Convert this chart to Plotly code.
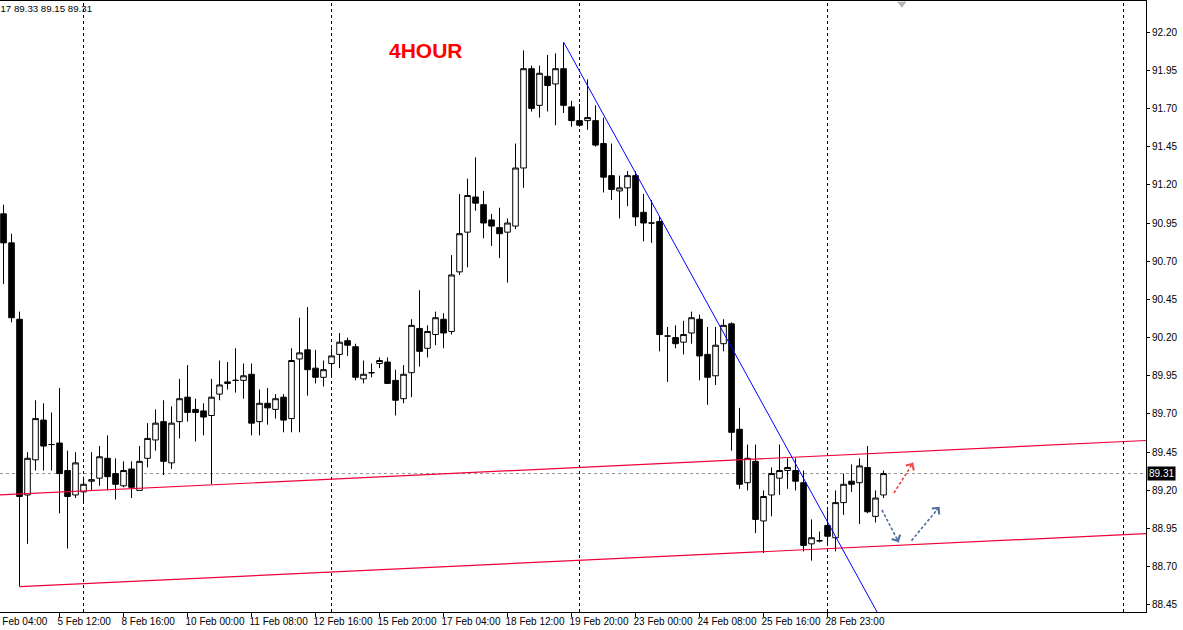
import plotly.graph_objects as go

# ---------------- data (4-hour candles) ----------------
opens = [91.01, 90.82, 90.32, 89.17, 89.40, 89.66, 89.50, 89.51, 89.33, 89.17,
         89.19, 89.26, 89.28, 89.41, 89.31, 89.23, 89.34, 89.20, 89.41, 89.53,
         89.65, 89.38, 89.65, 89.81, 89.73, 89.72, 89.69, 89.83, 89.91, 89.92,
         89.92, 89.96, 89.65, 89.77, 89.73, 89.81, 89.67, 90.06, 90.12, 90.00,
         89.94, 90.03, 90.09, 90.18, 90.14, 89.93, 89.97, 90.03, 90.04, 89.92,
         89.80, 89.97, 90.26, 90.13, 90.22, 90.32, 90.24, 90.63, 90.89, 91.12,
         91.07, 90.97, 90.92, 90.89, 90.93, 91.31, 91.96, 91.72, 91.91, 91.86,
         91.96, 91.71, 91.62, 91.62, 91.62, 91.47, 91.26, 91.16, 91.18, 91.26,
         91.02, 90.95, 90.96, 90.21, 90.20, 90.17, 90.23, 90.32, 90.09, 89.95,
         90.16, 90.29, 89.60, 89.25, 89.39, 89.00, 89.17, 89.28, 89.33, 89.33,
         89.25, 88.85, 88.87, 88.97, 88.89, 89.12, 89.26, 89.25, 89.35, 89.03,
         89.17]
highs = [91.07, 90.88, 90.37, 89.45, 89.79, 89.77, 89.71, 89.87, 89.46, 89.45,
         89.29, 89.45, 89.49, 89.56, 89.41, 89.39, 89.39, 89.49, 89.64, 89.73,
         89.79, 89.75, 89.93, 90.02, 89.80, 89.77, 89.93, 90.05, 90.04, 90.13,
         90.03, 90.03, 89.86, 89.87, 89.83, 89.83, 90.13, 90.33, 90.40, 90.12,
         90.05, 90.13, 90.23, 90.20, 90.16, 90.05, 90.03, 90.07, 90.07, 89.99,
         90.02, 90.32, 90.51, 90.28, 90.37, 90.36, 90.74, 91.14, 91.24, 91.38,
         91.16, 91.01, 91.05, 90.98, 91.47, 92.08, 91.98, 91.98, 92.05, 92.06,
         92.13, 91.75, 91.73, 91.89, 91.72, 91.64, 91.47, 91.26, 91.29, 91.29,
         91.14, 91.10, 90.99, 90.27, 90.28, 90.31, 90.37, 90.35, 90.27, 90.27,
         90.32, 90.30, 89.74, 89.50, 89.50, 89.20, 89.35, 89.50, 89.41, 89.41,
         89.33, 89.01, 88.93, 89.07, 89.20, 89.31, 89.37, 89.41, 89.49, 89.20,
         89.33]
lows = [90.55, 90.30, 88.57, 88.85, 89.33, 89.33, 89.33, 89.05, 88.82, 89.15,
        89.13, 89.20, 89.23, 89.20, 89.14, 89.22, 89.15, 89.20, 89.35, 89.46,
        89.30, 89.34, 89.54, 89.65, 89.52, 89.56, 89.24, 89.79, 89.86, 89.84,
        89.80, 89.56, 89.56, 89.63, 89.67, 89.58, 89.58, 89.58, 89.82, 89.90,
        89.88, 89.95, 90.00, 90.08, 89.92, 89.90, 89.94, 90.00, 89.90, 89.69,
        89.77, 89.81, 90.01, 90.07, 90.15, 90.13, 90.22, 90.61, 90.66, 91.03,
        90.85, 90.80, 90.72, 90.56, 90.91, 91.18, 91.68, 91.64, 91.68, 91.59,
        91.67, 91.58, 91.58, 91.56, 91.45, 91.15, 91.10, 90.98, 91.06, 90.93,
        90.83, 90.82, 90.11, 89.91, 90.13, 90.09, 90.16, 89.92, 89.76, 89.89,
        90.11, 89.46, 89.21, 89.20, 88.92, 88.79, 89.03, 89.17, 89.21, 89.20,
        88.80, 88.74, 88.86, 88.85, 88.80, 89.04, 89.19, 88.98, 89.05, 88.99,
        89.15]
closes = [90.82, 90.33, 89.16, 89.41, 89.67, 89.49, 89.50, 89.31, 89.16, 89.38,
          89.24, 89.27, 89.42, 89.29, 89.24, 89.33, 89.22, 89.39, 89.54, 89.64,
          89.39, 89.64, 89.80, 89.71, 89.71, 89.68, 89.81, 89.89, 89.90, 89.92,
          89.95, 89.64, 89.77, 89.74, 89.80, 89.66, 90.05, 90.10, 89.99, 89.94,
          89.99, 90.08, 90.17, 90.15, 89.94, 89.96, 89.97, 90.05, 89.90, 89.79,
          89.96, 90.28, 90.11, 90.24, 90.33, 90.23, 90.61, 90.88, 91.13, 91.08,
          90.95, 90.93, 90.88, 90.95, 91.31, 91.96, 91.70, 91.93, 91.85, 91.96,
          91.72, 91.62, 91.59, 91.64, 91.46, 91.25, 91.17, 91.18, 91.26, 90.99,
          90.95, 90.95, 90.22, 90.21, 90.16, 90.22, 90.33, 90.08, 89.94, 90.15,
          90.28, 89.58, 89.24, 89.41, 89.01, 89.16, 89.31, 89.33, 89.35, 89.26,
          88.84, 88.89, 88.87, 88.90, 89.12, 89.24, 89.24, 89.36, 89.06, 89.15,
          89.31]
bars = list(range(len(opens)))

# time-axis labels (bar index -> label)
tick_bars = [7, 15, 23, 31, 39, 47, 55, 63, 71, 79, 87, 95, 103]
tick_labels = ["5 Feb 12:00", "8 Feb 16:00", "10 Feb 00:00", "11 Feb 08:00",
               "12 Feb 16:00", "15 Feb 20:00", "17 Feb 04:00", "18 Feb 12:00",
               "19 Feb 20:00", "23 Feb 00:00", "24 Feb 08:00", "25 Feb 16:00",
               "28 Feb 23:00"]
first_label_bar = -1
first_label = "4 Feb 04:00"

price_ticks = [88.45, 88.70, 88.95, 89.20, 89.45, 89.70, 89.95, 90.20,
               90.45, 90.70, 90.95, 91.20, 91.45, 91.70, 91.95, 92.20]

grid_bars = [10, 41, 72, 103, 140]

# drawn objects (bar index, price)
channel_upper_x = [-5, 143]
channel_upper_y = [89.159, 89.527]
channel_lower_x = [2, 143]
channel_lower_y = [88.57, 88.917]
trend_x = [70, 112]
trend_y = [92.135, 88.137]
red_arrow = [(111.3, 89.183), (113.7, 89.381)]
blue_arrow_1 = [(109.8, 89.072), (111.9, 88.860)]
blue_arrow_2 = [(113.5, 88.871), (117.0, 89.093)]
shift_marker = (112.3, 92.385)

x_range = [-0.44, 142.81]
y_range = [88.404, 92.403]

FONT = "Liberation Sans, Arial, sans-serif"

fig = go.Figure()

fig.add_trace(go.Candlestick(
    x=bars, open=opens, high=highs, low=lows, close=closes,
    increasing=dict(line=dict(color="black", width=1), fillcolor="white"),
    decreasing=dict(line=dict(color="black", width=1), fillcolor="black"),
    whiskerwidth=0, hoverinfo="skip", showlegend=False,
))

# channel lines (red) and trend line (blue)
fig.add_trace(go.Scatter(x=channel_upper_x, y=channel_upper_y, mode="lines",
                         line=dict(color="#f0003c", width=1.2),
                         hoverinfo="skip", showlegend=False))
fig.add_trace(go.Scatter(x=channel_lower_x, y=channel_lower_y, mode="lines",
                         line=dict(color="#f0003c", width=1.2),
                         hoverinfo="skip", showlegend=False))
fig.add_trace(go.Scatter(x=trend_x, y=trend_y, mode="lines",
                         line=dict(color="#0000ff", width=1),
                         hoverinfo="skip", showlegend=False))

annotations = []

# dashed arrows
for arr, col in [(red_arrow, "#f04848"), (blue_arrow_1, "#4f6f9f"), (blue_arrow_2, "#4f6f9f")]:
    (xa, ya), (xb, yb) = arr
    fig.add_trace(go.Scatter(x=[xa, xb], y=[ya, yb], mode="lines",
                             line=dict(color=col, width=1.6, dash="3px,2px"),
                             hoverinfo="skip", showlegend=False))
    annotations.append(dict(x=xb, y=yb, ax=xb - 0.15 * (xb - xa), ay=yb - 0.15 * (yb - ya),
                            xref="x", yref="y", axref="x", ayref="y", text="",
                            showarrow=True, arrowhead=4, arrowsize=1.4, arrowwidth=1.3,
                            arrowcolor=col))

# chart-shift marker
fig.add_trace(go.Scatter(x=[shift_marker[0]], y=[shift_marker[1]], mode="markers",
                         marker=dict(symbol="triangle-down", size=8, color="#b4b4b4"),
                         cliponaxis=False, hoverinfo="skip", showlegend=False))

shapes = []
for gb in grid_bars:
    shapes.append(dict(type="line", xref="x", yref="paper", x0=gb, x1=gb, y0=0, y1=1,
                       line=dict(color="black", width=1, dash="3px,3px"), layer="below"))
shapes.append(dict(type="line", xref="paper", yref="y", x0=0, x1=1,
                   y0=closes[-1], y1=closes[-1],
                   line=dict(color="#909090", width=1, dash="dot"), layer="below"))

first_label_paper_x = (first_label_bar - x_range[0]) / (x_range[1] - x_range[0])

annotations += [
    dict(xref="paper", yref="paper", x=426 / 1146, y=(612 - 51) / 611, text="<b>4HOUR</b>",
         showarrow=False, font=dict(family=FONT, size=21, color="#ff0000"),
         xanchor="center", yanchor="middle"),
    dict(xref="paper", yref="paper", x=94 / 1146, y=(612 - 9) / 611,
         text=f"{opens[-1]:.2f} {highs[-1]:.2f} {lows[-1]:.2f} {closes[-1]:.2f}",
         showarrow=False, font=dict(family=FONT, size=9.7, color="black"),
         xanchor="right", yanchor="middle"),
    dict(xref="paper", yref="y", x=1, y=closes[-1], xshift=1, text=f"{closes[-1]:.2f}",
         showarrow=False, font=dict(family=FONT, size=10, color="white"),
         bgcolor="black", xanchor="left", yanchor="middle", borderpad=1),
    dict(xref="paper", yref="paper", x=first_label_paper_x, y=0, yshift=-2, xshift=-4,
         text=first_label, showarrow=False,
         font=dict(family=FONT, size=10, color="black"),
         xanchor="left", yanchor="top"),
]

fig.update_layout(
    width=1183, height=630,
    margin=dict(l=0, r=37, t=1, b=18, autoexpand=False),
    paper_bgcolor="white", plot_bgcolor="white",
    showlegend=False, hovermode=False,
    boxgap=0.3, boxgroupgap=0,
    shapes=shapes,
    font=dict(family=FONT, size=10, color="black"),
    xaxis=dict(range=x_range, rangeslider=dict(visible=False), automargin=False,
               tickmode="array", tickvals=tick_bars, ticktext=tick_labels,
               tickangle=0,
               ticks="outside", ticklen=4, tickcolor="black",
               ticklabelposition="outside right", ticklabelshift=-3,
               showgrid=False, zeroline=False,
               showline=True, linecolor="black", linewidth=1, mirror=True,
               tickfont=dict(family=FONT, size=10, color="black")),
    yaxis=dict(range=y_range, side="right", tickmode="array", tickvals=price_ticks,
               automargin=False,
               tickformat=".2f", ticks="outside", ticklen=3, tickcolor="black",
               showgrid=False, zeroline=False,
               showline=True, linecolor="black", linewidth=1,
               tickfont=dict(family=FONT, size=10, color="black")),
)
fig.layout.annotations = annotations

fig.write_html("out.html", config={"staticPlot": True},
               post_script="document.body.style.margin='0';document.body.style.overflow='hidden';")
